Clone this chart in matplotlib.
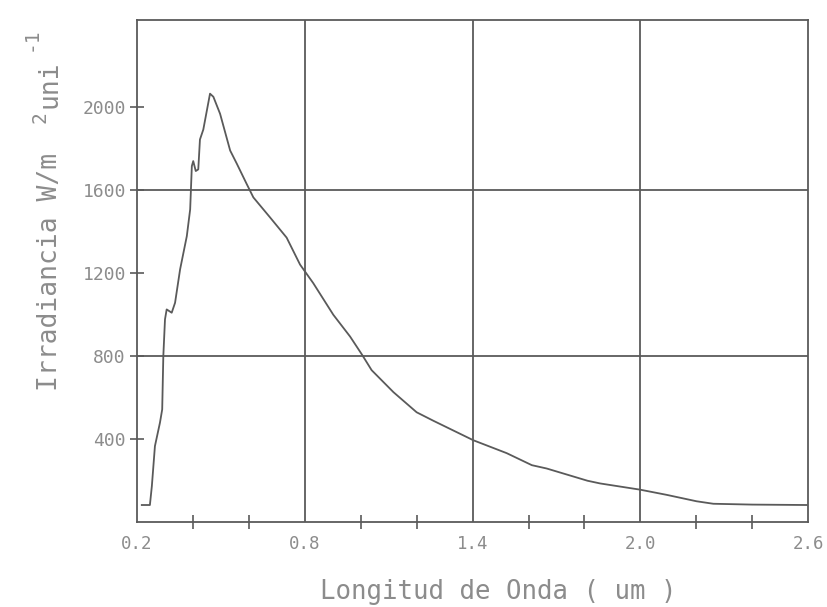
import matplotlib
matplotlib.use("Agg")
import matplotlib.pyplot as plt

# Spectral irradiance curve.
wavelength_um = [
    0.217, 0.246, 0.253, 0.264, 0.282, 0.290, 0.294, 0.300, 0.306, 0.324,
    0.336, 0.354, 0.378, 0.390, 0.396, 0.401, 0.410, 0.419, 0.425, 0.437,
    0.461, 0.473, 0.497, 0.533, 0.557, 0.592, 0.616, 0.676, 0.735, 0.783,
    0.830, 0.902, 0.962, 1.004, 1.039, 1.117, 1.200, 1.260, 1.403, 1.522,
    1.612, 1.665, 1.811, 1.856, 1.999, 2.094, 2.201, 2.261, 2.400, 2.595,
]
irradiance = [
    82, 82, 173, 366, 479, 543, 800, 977, 1025, 1009,
    1057, 1218, 1378, 1507, 1716, 1740, 1692, 1700, 1844, 1892,
    2065, 2050, 1968, 1791, 1727, 1630, 1565, 1468, 1371, 1241,
    1152, 999, 894, 808, 732, 626, 529, 488, 394, 332,
    274, 258, 199, 186, 156, 131, 100, 88, 84, 82,
]

x_major = [0.2, 0.8, 1.4, 2.0, 2.6]
x_labels = ["0.2", "0.8", "1.4", "2.0", "2.6"]
x_minor = [0.4, 0.6, 1.0, 1.2, 1.6, 1.8, 2.2, 2.4]
x_grid = [0.8, 1.4, 2.0]
y_major = [400, 800, 1200, 1600, 2000]
y_grid = [800, 1600]

LINE = "#5a5a5a"
TEXT = "#8c8c8c"
MONO = "DejaVu Sans Mono"
W, H = 828, 607


def px(x, y):
    # pixel position (from top-left) -> figure fraction
    return x / W, 1 - y / H


fig = plt.figure(figsize=(W / 100, H / 100), dpi=100)
ax = fig.add_axes([0.1655, 0.14, 0.8105, 0.827])

ax.plot(wavelength_um, irradiance, color=LINE, linewidth=1.3)

for xv in x_grid:
    ax.axvline(xv, color=LINE, linewidth=1.3)
for yv in y_grid:
    ax.axhline(yv, color=LINE, linewidth=1.3)

ax.set_xlim(0.2, 2.6)
ax.set_ylim(0, 2420)

ax.set_xticks(x_major)
ax.set_xticklabels(x_labels, fontfamily=MONO, fontsize=12.5, color=TEXT)
ax.set_xticks(x_minor, minor=True)
ax.tick_params(axis="x", which="major", length=0, pad=9)
ax.tick_params(axis="x", which="minor", direction="inout", length=10,
               width=1.2, color=LINE)

ax.set_yticks(y_major)
ax.set_yticklabels([str(v) for v in y_major], fontfamily=MONO,
                   fontsize=13, color=TEXT)
ax.tick_params(axis="y", direction="inout", length=10, width=1.2,
               color=LINE, pad=3)

for spine in ax.spines.values():
    spine.set_color(LINE)
    spine.set_linewidth(1.3)

# x label
fig.text(*px(498, 599), "Longitud de Onda ( um )", fontfamily=MONO,
         fontsize=18.5, color=TEXT, ha="center", va="baseline")

# y label, with full-size raised exponents as in the original plotter output
rot = dict(rotation=90, rotation_mode="anchor", ha="left", va="baseline",
           fontfamily=MONO, color=TEXT)
fig.text(*px(57, 391), "Irradiancia W/m", fontsize=19, **rot)
fig.text(*px(46, 123), "2", fontsize=14, **rot)
fig.text(*px(57, 108), "uni", fontsize=19, **rot)
fig.text(*px(37, 51), "-1", fontsize=14, **rot)

fig.savefig("out.png", dpi=100)
